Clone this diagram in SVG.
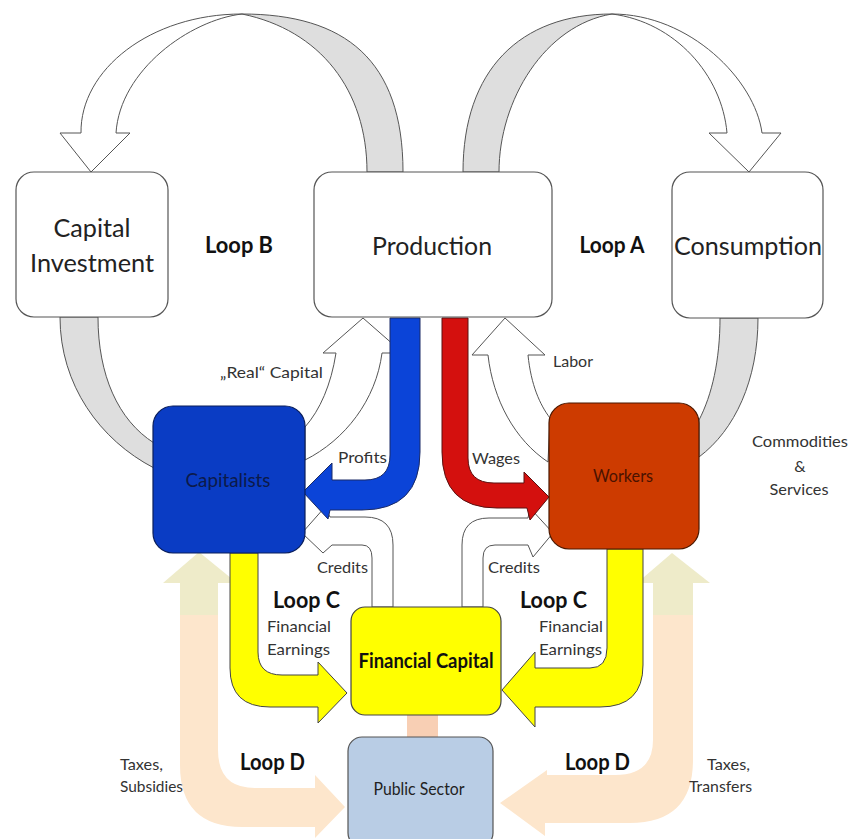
<svg xmlns="http://www.w3.org/2000/svg" width="851" height="839" viewBox="0 0 851 839">
<style>
.g{fill:#dedede;stroke:#555;stroke-width:1}
.w{fill:#fff;stroke:#555;stroke-width:1}
.box{fill:#fff;stroke:#555;stroke-width:1.2}
.t{font-family:Lato,"Open Sans",sans-serif;fill:#222}
.big{font-size:25px;fill:#222}
.lbl{font-size:16px;fill:#333}
.loop{font-size:23px;font-weight:bold;fill:#111}
</style>
<rect width="851" height="839" fill="#fff"/>
<g id="connectors">
  <!-- Loop B top -->
  <path class="g" d="M403,172 C403,60 345,14 242,14 C320,30 367,90 367,172 Z"/>
  <path class="w" d="M242,14 C150,14 80,70 81,133 L60,133 L91,172 L130,133 L116,133 C120,70 190,20 242,14 Z"/>
  <!-- Loop A top -->
  <path class="g" d="M463,172 C463,70 520,14 612,14 C545,25 499,100 499,172 Z"/>
  <path class="w" d="M612,14 C690,14 755,80 762,133 L781,133 L749,172 L709,133 L727,133 C722,75 675,22 612,14 Z"/>
  <!-- Loop B bottom -->
  <path class="g" d="M60,317 C60,385 100,440 154,468 L154,443 C118,420 98,375 98,317 Z"/>
  <path class="w" d="M305,460 C345,440 376,400 382,353 L403,353 L363,318 L323,353 L336,353 C331,385 320,410 305,427 Z"/>
  <!-- Loop A bottom -->
  <path class="g" d="M758,318 C758,380 735,430 699,457 L699,420 C712,395 720,360 720,318 Z"/>
  <path class="w" d="M548,462 C515,440 493,400 488,355 L472,355 L505,318 L545,355 L528,355 C531,385 540,405 550,418 Z"/>
  <!-- Loop D -->
  <path fill="#fde6cc" d="M180,615 L180,765 Q180,827 242,827 L315,827 L315,838 L345,807 L315,775 L315,788 L255,788 Q218,788 218,750 L218,615 Z"/>
  <path fill="#eeebc9" d="M180,615 L180,583 L163,583 L199,552 L237,583 L218,583 L218,615 Z"/>
  <path fill="#fde6cc" d="M693,615 L693,760 Q693,823 630,823 L545,823 L545,836 L500,803 L547,770 L547,775 L615,775 Q653,775 653,740 L653,615 Z"/>
  <path fill="#eeebc9" d="M693,615 L693,583 L710,583 L672,553 L637,583 L653,583 L653,615 Z"/>
  <rect x="407" y="714" width="31" height="24" fill="#f8cfb4"/>
  <!-- Credits -->
  <path class="w" d="M393,607 L393,545 Q393,517 365,517 L330,517 L325,507 L302,533 L323,553 L332,545 L362,545 Q372,545 372,558 L372,607 Z"/>
  <path class="w" d="M462,607 L462,545 Q462,518 489,518 L528,518 L530,508 L553,533 L533,557 L528,545 L495,545 Q483,545 483,558 L483,607 Z"/>
  <!-- Profits / Wages -->
  <path fill="#0b44d8" stroke="#1a2a66" stroke-width="1" d="M420,318 L420,452 Q420,510 362,510 L330,510 L328,519 L303,492 L332,463 L332,480 L365,480 Q390,480 390,455 L390,318 Z"/>
  <path fill="#d4100e" stroke="#5a1010" stroke-width="1" d="M442,318 L442,452 Q442,508 497,508 L527,508 L530,520 L549,497 L524,472 L524,483 L494,483 Q468,483 468,458 L468,318 Z"/>
  <!-- Financial earnings -->
  <path fill="#ffff00" stroke="#444" stroke-width="1" d="M230,553 L230,668 Q230,707 270,707 L318,707 L318,723 L347,693 L318,662 L318,675 L282,675 Q258,675 258,652 L258,553 Z"/>
  <path fill="#ffff00" stroke="#444" stroke-width="1" d="M643,549 L643,665 Q643,707 600,707 L535,707 L535,727 L502,690 L535,652 L535,668 L590,668 Q607,668 607,648 L607,549 Z"/>
</g>
<g id="capital-investment"><rect class="box" x="16" y="172" width="152" height="145" rx="18"/>
  <text class="t big" x="92" y="237" text-anchor="middle" textLength="77" lengthAdjust="spacingAndGlyphs">Capital</text>
  <text class="t big" x="92" y="272" text-anchor="middle" textLength="124" lengthAdjust="spacingAndGlyphs">Investment</text></g>
<g id="production"><rect class="box" x="314" y="172" width="238" height="145" rx="18"/>
  <text class="t big" x="432" y="255" text-anchor="middle" textLength="120" lengthAdjust="spacingAndGlyphs">Production</text></g>
<g id="consumption"><rect class="box" x="672" y="172" width="151" height="146" rx="18"/>
  <text class="t big" x="748" y="255" text-anchor="middle" textLength="148" lengthAdjust="spacingAndGlyphs">Consumption</text></g>
<g id="capitalists"><rect x="153" y="406" width="152" height="147" rx="20" fill="#0a3cc4" stroke="#0a1e5a" stroke-width="1.2"/>
  <text class="t" x="228" y="487" text-anchor="middle" font-size="19" style="fill:#0c1a4a" textLength="85" lengthAdjust="spacingAndGlyphs">Capitalists</text></g>
<g id="workers"><rect x="549" y="403" width="150" height="146" rx="20" fill="#cd3b00" stroke="#4a1800" stroke-width="1.2"/>
  <text class="t" x="623" y="482" text-anchor="middle" font-size="17" style="fill:#4a1200" textLength="60" lengthAdjust="spacingAndGlyphs">Workers</text></g>
<g id="financial-capital"><rect x="351" y="607" width="150" height="108" rx="14" fill="#ffff00" stroke="#444" stroke-width="1.2"/>
  <text class="t" x="426" y="668" text-anchor="middle" font-size="20" font-weight="bold" style="fill:#111" textLength="135" lengthAdjust="spacingAndGlyphs">Financial Capital</text></g>
<g id="public-sector"><rect x="348" y="737" width="145" height="110" rx="14" fill="#b9cde5" stroke="#555" stroke-width="1.2"/>
  <text class="t" x="419" y="795" text-anchor="middle" font-size="17" style="fill:#222" textLength="91" lengthAdjust="spacingAndGlyphs">Public Sector</text></g>
<g id="labels">
  <text class="t loop" x="239" y="253" text-anchor="middle" textLength="68" lengthAdjust="spacingAndGlyphs">Loop B</text>
  <text class="t loop" x="612" y="253" text-anchor="middle" textLength="65" lengthAdjust="spacingAndGlyphs">Loop A</text>
  <text class="t lbl" x="220" y="378" textLength="103" lengthAdjust="spacingAndGlyphs">„Real“ Capital</text>
  <text class="t lbl" x="553" y="367" textLength="40" lengthAdjust="spacingAndGlyphs">Labor</text>
  <text class="t lbl" x="338" y="463" textLength="49" lengthAdjust="spacingAndGlyphs">Profits</text>
  <text class="t lbl" x="472" y="464" textLength="48" lengthAdjust="spacingAndGlyphs">Wages</text>
  <text class="t lbl" x="800" y="447" text-anchor="middle" textLength="96" lengthAdjust="spacingAndGlyphs">Commodities</text>
  <text class="t lbl" x="800" y="472" text-anchor="middle">&amp;</text>
  <text class="t lbl" x="799" y="495" text-anchor="middle" textLength="59" lengthAdjust="spacingAndGlyphs">Services</text>
  <text class="t lbl" x="317" y="573" textLength="51" lengthAdjust="spacingAndGlyphs">Credits</text>
  <text class="t lbl" x="488" y="573" textLength="52" lengthAdjust="spacingAndGlyphs">Credits</text>
  <text class="t loop" x="273" y="608" textLength="67" lengthAdjust="spacingAndGlyphs">Loop C</text>
  <text class="t loop" x="520" y="608" textLength="67" lengthAdjust="spacingAndGlyphs">Loop C</text>
  <text class="t lbl" x="267" y="632" textLength="64" lengthAdjust="spacingAndGlyphs">Financial</text>
  <text class="t lbl" x="267" y="655" textLength="63" lengthAdjust="spacingAndGlyphs">Earnings</text>
  <text class="t lbl" x="539" y="632" textLength="64" lengthAdjust="spacingAndGlyphs">Financial</text>
  <text class="t lbl" x="539" y="655" textLength="63" lengthAdjust="spacingAndGlyphs">Earnings</text>
  <text class="t loop" x="240" y="770" textLength="65" lengthAdjust="spacingAndGlyphs">Loop D</text>
  <text class="t loop" x="565" y="770" textLength="65" lengthAdjust="spacingAndGlyphs">Loop D</text>
  <text class="t lbl" x="120" y="770" textLength="43" lengthAdjust="spacingAndGlyphs">Taxes,</text>
  <text class="t lbl" x="120" y="792" textLength="63" lengthAdjust="spacingAndGlyphs">Subsidies</text>
  <text class="t lbl" x="707" y="770" textLength="43" lengthAdjust="spacingAndGlyphs">Taxes,</text>
  <text class="t lbl" x="689" y="792" textLength="63" lengthAdjust="spacingAndGlyphs">Transfers</text>
</g>
</svg>
